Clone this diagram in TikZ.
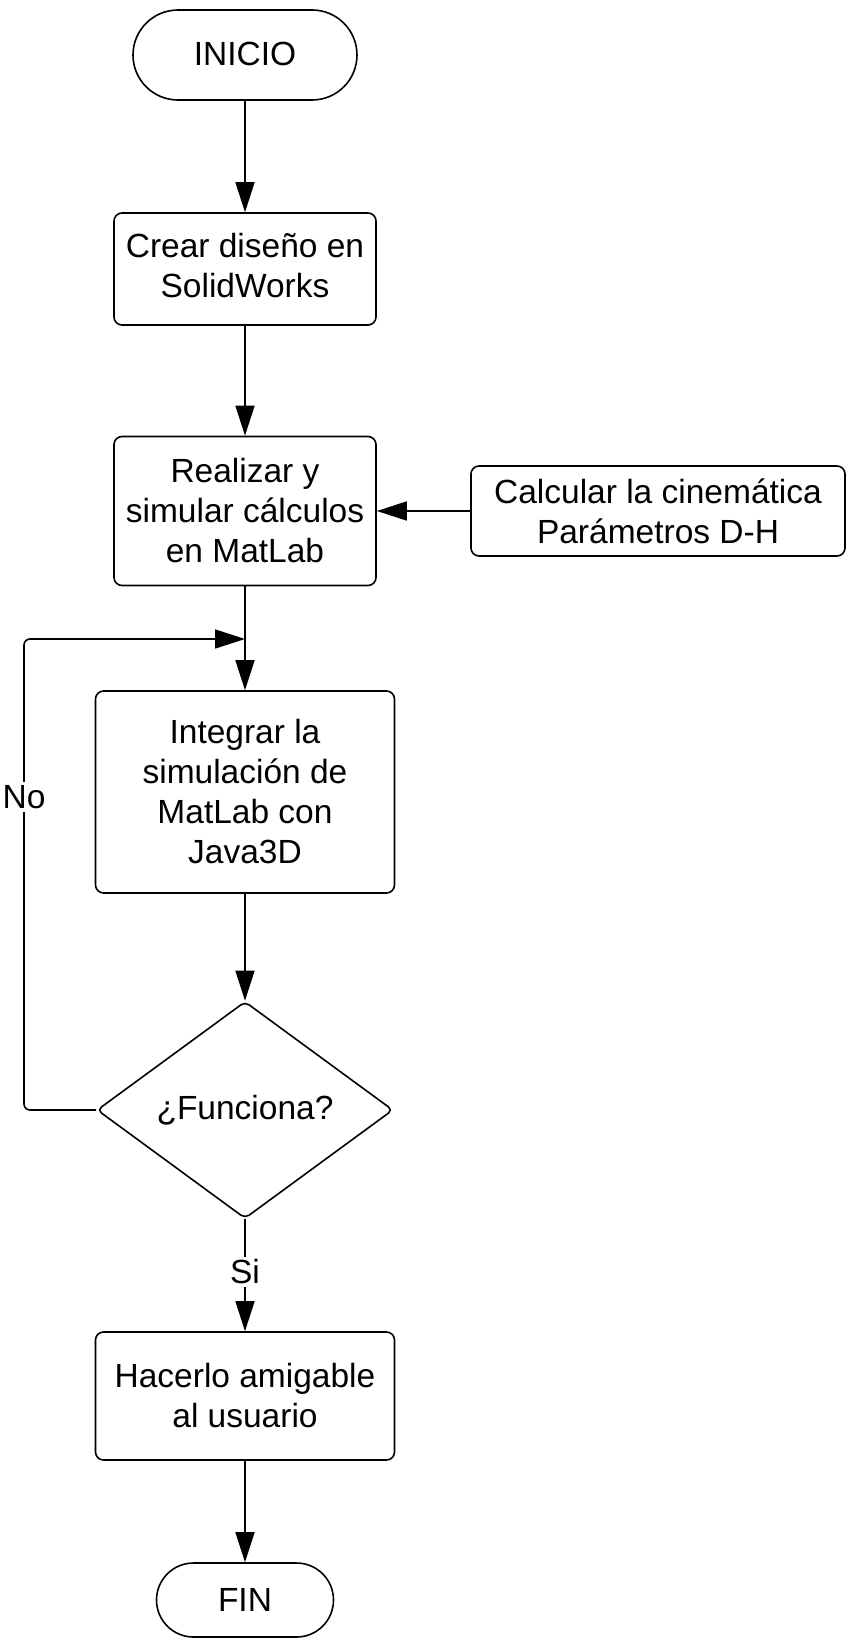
\documentclass[tikz,border=0pt]{standalone}
\usepackage{fontspec}
\setmainfont{Liberation Sans}
\usetikzlibrary{arrows.meta,shapes.geometric}
\begin{document}
\begin{tikzpicture}[x=1pt,y=-1pt,
  every node/.style={font=\fontsize{33.5}{40}\selectfont, align=center},
  box/.style={draw, line width=1.6pt, rounded corners=8pt, inner sep=0pt},
  term/.style={draw, line width=1.6pt, inner sep=0pt},
  dec/.style={draw, line width=1.6pt, diamond, inner sep=0pt, rounded corners=5pt},
  arr/.style={line width=1.6pt, -{Triangle[length=30pt,width=19pt]}},
  lbl/.style={fill=white, inner sep=3pt}
]
\useasboundingbox (0,0) rectangle (853,1646);
\node[term, rounded corners=45pt, minimum width=224pt, minimum height=90pt] (ini) at (245,55) {\raisebox{3pt}{INICIO}};
\node[box, minimum width=262pt, minimum height=112pt] (crear) at (245,269) {\raisebox{4pt}{\begin{tabular}{@{}c@{}}Crear diseño en\\SolidWorks\end{tabular}}};
\node[box, minimum width=262pt, minimum height=149pt] (real) at (245,511) {Realizar y\\simular cálculos\\en MatLab};
\node[box, minimum width=374pt, minimum height=90pt] (calc) at (658,511) {Calcular la cinemática\\Parámetros D-H};
\node[box, minimum width=299pt, minimum height=202pt] (integ) at (245,792) {Integrar la\\simulación de\\MatLab con\\Java3D};
\node[dec, minimum width=296pt, minimum height=217pt] (dia) at (245,1110) {¿Funciona?};
\node[box, minimum width=299pt, minimum height=128pt] (hac) at (245,1396) {Hacerlo amigable\\al usuario};
\node[term, rounded corners=37pt, minimum width=177pt, minimum height=74pt] (fin) at (245,1600) {FIN};
\coordinate (j) at (245,639);
\coordinate (lc) at (24,639);

\draw[arr] (ini) -- (crear);
\draw[arr] (crear) -- (real);
\draw[arr] (calc) -- (real);
\draw[arr] (real) -- (integ);
\draw[arr] (integ) -- (dia);
\draw[arr] (dia) -- node[lbl, pos=0.47] (si) {Si} (hac);
\draw[arr] (hac) -- (fin);
\draw[arr, rounded corners=6pt] (dia.west) -| (lc) -- (j);
\node[lbl] (no) at (24,797) {No};
\end{tikzpicture}
\end{document}
